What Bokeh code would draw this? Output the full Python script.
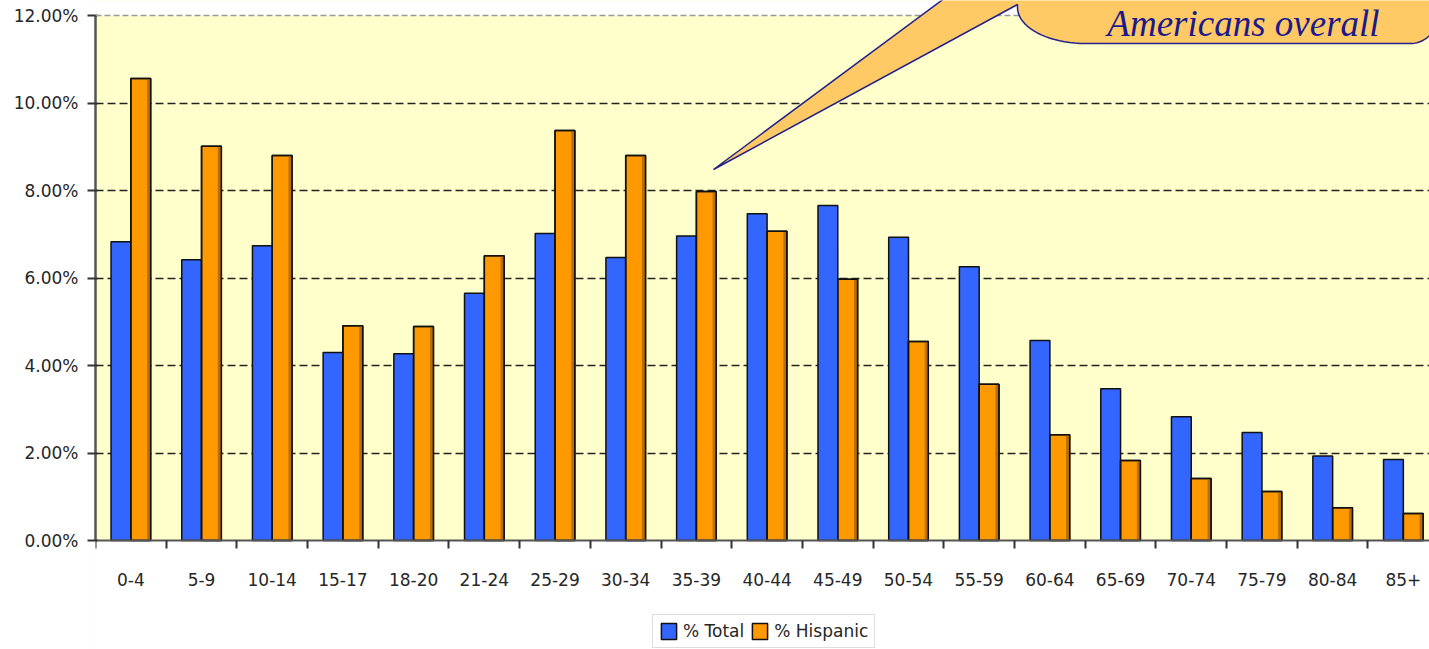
import math
from bokeh.plotting import figure
from bokeh.models import (ColumnDataSource, FixedTicker, PrintfTickFormatter, CustomJSTickFormatter,
                          Range1d, Span, PolyAnnotation, Label, Legend, LegendItem, BoxAnnotation)
from bokeh.transform import dodge
from bokeh.embed import file_html
from bokeh.resources import INLINE

categories = ["0-4", "5-9", "10-14", "15-17", "18-20", "21-24", "25-29", "30-34", "35-39",
              "40-44", "45-49", "50-54", "55-59", "60-64", "65-69", "70-74", "75-79", "80-84", "85+"]
pct_total = [6.83, 6.42, 6.74, 4.30, 4.27, 5.65, 7.02, 6.47, 6.96, 7.47, 7.66, 6.93, 6.26,
             4.57, 3.47, 2.83, 2.47, 1.93, 1.85]
pct_hispanic = [10.56, 9.01, 8.80, 4.91, 4.89, 6.51, 9.37, 8.80, 7.98, 7.07, 5.97, 4.55, 3.57,
                2.42, 1.83, 1.42, 1.12, 0.75, 0.62]
series_names = ["% Total", "% Hispanic"]
y_ticks = [0, 2, 4, 6, 8, 10, 12]
callout_text = "Americans overall"

W, H = 1429, 649
LEFT = 95
AX_Y0, AX_Y12 = 540, 15          # pixel rows of 0% and 12%
X_END = 18.87
Y_MAX = 12
px_per_y = (AX_Y0 - AX_Y12) / Y_MAX
y_top = Y_MAX + AX_Y12 / px_per_y
y_bot = -(H - AX_Y0) / px_per_y

FONT = "DejaVu Sans"
TXT = "#262626"

p = figure(width=W, height=H, output_backend="svg", toolbar_location=None,
           x_range=Range1d(0, X_END), y_range=Range1d(y_bot, y_top),
           min_border_left=LEFT, min_border_top=0, min_border_bottom=0,
           min_border_right=0, background_fill_color="#FFFFCC", border_fill_color="white",
           outline_line_color=None)

# white areas above 12% and below 0%
p.add_layout(BoxAnnotation(bottom=Y_MAX, fill_color="white", fill_alpha=1, line_color=None,
                           level="underlay"))
p.add_layout(BoxAnnotation(top=0, fill_color="white", fill_alpha=1, line_color=None,
                           level="underlay"))

idx = [i + 0.5 for i in range(len(categories))]
src = ColumnDataSource(dict(idx=idx, cat=categories, total=pct_total, hisp=pct_hispanic))

BW = 0.28
r_tot = p.vbar(x=dodge("idx", -BW / 2), top="total", width=BW, source=src,
               fill_color="#3366FF", line_color="#111111", line_width=1.5)
r_his = p.vbar(x=dodge("idx", BW / 2), top="hisp", width=BW, source=src,
               fill_color="#FF9900", line_color="#111111", line_width=1.5)
# darker shading strip at the right edge of the orange bars, then the outline again
p.vbar(x=dodge("idx", BW - 0.03), top="hisp", width=0.04, source=src,
       fill_color="#B86E00", line_color=None)
p.vbar(x=dodge("idx", BW / 2), top="hisp", width=BW, source=src,
       fill_color=None, line_color="#111111", line_width=1.5)

# grid
p.xgrid.visible = False
p.ygrid.ticker = FixedTicker(ticks=y_ticks[1:-1])
p.ygrid.grid_line_color = "#222222"
p.ygrid.grid_line_width = 1.5
p.ygrid.grid_line_dash = "8 4"
p.add_layout(Span(location=Y_MAX, dimension="width", line_color="#999999",
                  line_width=1.5, line_dash="6 3"))

# y axis
ya = p.yaxis[0]
ya.ticker = FixedTicker(ticks=y_ticks)
ya.bounds = (0, Y_MAX)
ya.formatter = PrintfTickFormatter(format="%.2f%%")
ya.axis_line_color = "#555555"
ya.axis_line_width = 2.5
ya.major_tick_line_color = "#333333"
ya.major_tick_line_width = 2
ya.major_tick_out = 8
ya.major_tick_in = 2
ya.minor_tick_line_color = None
ya.major_label_standoff = 9
ya.major_label_text_font = FONT
ya.major_label_text_font_size = "17px"
ya.major_label_text_color = TXT

# x axis, drawn at 0%
xa = p.xaxis[0]
xa.fixed_location = 0
xa.ticker = FixedTicker(ticks=idx, minor_ticks=list(range(len(categories) + 1)))
xa.formatter = CustomJSTickFormatter(args=dict(cats=categories),
                                     code="const i = Math.floor(tick); return cats[i] || '';")
xa.axis_line_color = "#555555"
xa.axis_line_width = 2
xa.major_tick_line_color = None
xa.major_tick_out = 0
xa.major_tick_in = 0
xa.minor_tick_line_color = "#333333"
xa.minor_tick_line_width = 2
xa.minor_tick_out = 8
xa.minor_tick_in = 0
xa.major_label_standoff = 24
xa.major_label_text_font = FONT
xa.major_label_text_font_size = "17px"
xa.major_label_text_color = TXT

# callout bubble (decorative shape, pixel outline converted to data units)
px_per_x = (W - LEFT) / X_END
def dx(px):
    return (px - LEFT) / px_per_x
def dy(py):
    return (AX_Y0 - py) / px_per_y

pts = [(713, 169), (1017, 4), (1017, 7)]
cx, cy, rx, ry = 1085, 7, 68, 36
for k in range(1, 21):
    a = math.pi - (math.pi / 2) * k / 20
    pts.append((cx + rx * math.cos(a), cy + ry * math.sin(a)))
cx2, cy2, rx2, ry2 = 1410, 13, 28, 30
for k in range(0, 21):
    a = math.pi / 2 - (math.pi / 2) * k / 20
    pts.append((cx2 + rx2 * math.cos(a), cy2 + ry2 * math.sin(a)))
pts += [(1438, -60), (1022, -60)]
p.add_layout(PolyAnnotation(xs=[dx(a) for a, b in pts], ys=[dy(b) for a, b in pts],
                            fill_color="#FFC966", fill_alpha=1.0,
                            line_color="#22228A", line_width=1.5, line_alpha=1.0,
                            level="overlay"))
p.add_layout(Label(x=dx(1243), y=dy(2), text=callout_text, text_font="Liberation Serif",
                   text_font_style="italic", text_font_size="37px", text_color="#1A1A8C",
                   text_baseline="top", text_align="center", level="overlay"))

# legend
legend = Legend(items=[LegendItem(label=series_names[0], renderers=[r_tot]),
                       LegendItem(label=series_names[1], renderers=[r_his])],
                orientation="horizontal", location=(652 - LEFT, 1),
                glyph_width=19, glyph_height=20, label_standoff=5, spacing=6,
                padding=6, margin=0, border_line_color="#BBBBBB", border_line_width=1,
                background_fill_color="white", background_fill_alpha=1.0,
                label_text_font=FONT, label_text_font_size="17px", label_text_color=TXT)
p.add_layout(legend)

open("out.html", "w").write(file_html(p, INLINE))
